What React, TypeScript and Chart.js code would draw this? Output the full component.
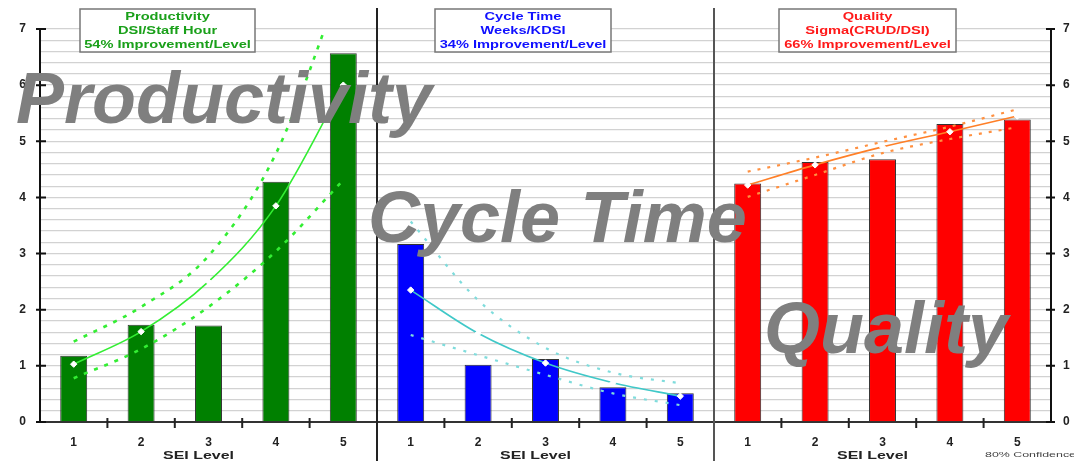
import { useEffect, useRef } from "react";
import { Chart, registerables } from "chart.js";

Chart.register(...registerables);

// SEI maturity levels shown on each panel's x axis
const levels = ["1", "2", "3", "4", "5"];
const yTickValues = [0, 1, 2, 3, 4, 5, 6, 7];

// Productivity (DSI per staff hour)
const productivity = [1.18, 1.73, 1.72, 4.28, 6.57];
const productivityTrend = [1.03, 1.61, 2.5, 3.85, 6.0];
const productivityUpper = [1.43, 2.05, 2.96, 4.78, 7.9];
const productivityLower = [0.78, 1.3, 2.05, 3.04, 4.31];

// Cycle time (weeks per KDSI)
const cycleTime = [3.17, 1.02, 1.12, 0.62, 0.51];
const cycleTrend = [2.35, 1.58, 1.05, 0.7, 0.46];
const cycleUpper = [3.57, 2.17, 1.32, 0.88, 0.69];
const cycleLower = [1.55, 1.19, 0.84, 0.51, 0.3];

// Quality (sigma of CRUD/DSI)
const quality = [4.25, 4.63, 4.68, 5.31, 5.39];
const qualityTrend = [4.22, 4.58, 4.9, 5.17, 5.45];
const qualityUpper = [4.46, 4.71, 4.99, 5.26, 5.57];
const qualityLower = [4.01, 4.4, 4.79, 5.04, 5.25];

const productivityLegend = ["Productivity", "DSI/Staff Hour", "54% Improvement/Level"];
const cycleLegend = ["Cycle Time", "Weeks/KDSI", "34% Improvement/Level"];
const qualityLegend = ["Quality", "Sigma(CRUD/DSI)", "66% Improvement/Level"];

const panelTitles = ["Productivity", "Cycle Time", "Quality"];
const xAxisTitle = "SEI Level";
const confidenceNote = "80% Confidence";

const FONT = "'Liberation Sans', Arial, sans-serif";

function stretchText(
  ctx: CanvasRenderingContext2D,
  text: string,
  x: number,
  y: number,
  font: string,
  color: string,
  sx: number,
  align: CanvasTextAlign = "center"
) {
  ctx.save();
  ctx.font = font;
  ctx.fillStyle = color;
  ctx.textAlign = align;
  ctx.textBaseline = "middle";
  ctx.translate(x, y);
  ctx.scale(sx, 1);
  ctx.fillText(text, 0, 0);
  ctx.restore();
}

export default function App() {
  const ref = useRef<HTMLCanvasElement>(null);

  useEffect(() => {
    const canvas = ref.current;
    if (!canvas) return;

    const labels = [...levels, ...levels, ...levels];
    const place = (vals: number[], panel: number) =>
      labels.map((_, i) => {
        const k = i - panel * 5;
        return k >= 0 && k < 5 ? vals[k] : null;
      });

    const barColors = labels.map((_, i) => (i < 5 ? "#008000" : i < 10 ? "#0000ff" : "#ff0000"));

    const trend = (vals: number[], panel: number, color: string) => ({
      type: "line" as const,
      data: place(vals, panel),
      borderColor: color,
      borderWidth: 1.6,
      cubicInterpolationMode: "monotone" as const,
      pointStyle: "rectRot" as const,
      pointRadius: 3.2,
      pointBackgroundColor: "#ffffff",
      pointBorderColor: "#ffffff",
      pointBorderWidth: 1,
      spanGaps: false,
      order: 0,
    });
    const band = (vals: number[], panel: number, color: string, dash: number[], width: number) => ({
      type: "line" as const,
      data: place(vals, panel),
      borderColor: color,
      borderWidth: width,
      borderDash: dash,
      cubicInterpolationMode: "monotone" as const,
      pointRadius: 0,
      spanGaps: false,
      order: 0,
    });

    const legends = [
      { x1: 80, x2: 255, color: "#1aa01a", lines: productivityLegend },
      { x1: 435, x2: 611, color: "#1010ff", lines: cycleLegend },
      { x1: 779, x2: 956, color: "#ff1a1a", lines: qualityLegend },
    ];
    const bigText = [
      { x: 16, y: 123, text: panelTitles[0] },
      { x: 368, y: 242, text: panelTitles[1] },
      { x: 764, y: 353, text: panelTitles[2] },
    ];

    const decor = {
      id: "decor",
      afterDraw(chart: any) {
        const ctx: CanvasRenderingContext2D = chart.ctx;
        const area = chart.chartArea;
        const xs = chart.scales.x;
        const ys = chart.scales.y;
        const boundary = (i: number) => (xs.getPixelForValue(i) + xs.getPixelForValue(i + 1)) / 2;

        ctx.save();
        // integer ticks on both value axes
        ctx.strokeStyle = "#111";
        ctx.lineWidth = 2;
        for (const v of yTickValues) {
          const py = ys.getPixelForValue(v);
          ctx.beginPath();
          ctx.moveTo(area.left - 4, py);
          ctx.lineTo(area.left + 6, py);
          ctx.moveTo(area.right - 5, py);
          ctx.lineTo(area.right + 4, py);
          ctx.stroke();
        }
        // category boundary ticks
        ctx.strokeStyle = "#222";
        for (let i = 0; i < labels.length - 1; i++) {
          if (i === 4 || i === 9) continue;
          const px = boundary(i);
          ctx.beginPath();
          ctx.moveTo(px, area.bottom - 4);
          ctx.lineTo(px, area.bottom + 6);
          ctx.stroke();
        }
        // panel separators
        [4, 9].forEach((i, k) => {
          const px = boundary(i);
          ctx.strokeStyle = k === 0 ? "#222" : "#555";
          ctx.lineWidth = 2;
          ctx.beginPath();
          ctx.moveTo(px, 8);
          ctx.lineTo(px, 461);
          ctx.stroke();
        });
        ctx.restore();

        // legend boxes
        for (const lg of legends) {
          ctx.save();
          ctx.fillStyle = "#ffffff";
          ctx.fillRect(lg.x1, 9, lg.x2 - lg.x1, 43);
          ctx.strokeStyle = "#777";
          ctx.lineWidth = 1.5;
          ctx.strokeRect(lg.x1, 9, lg.x2 - lg.x1, 43);
          ctx.restore();
          const cx = (lg.x1 + lg.x2) / 2;
          lg.lines.forEach((t, j) => {
            stretchText(ctx, t, cx, 16.5 + j * 14, `bold 11px ${FONT}`, lg.color, 1.33);
          });
        }

        // axis titles under each panel
        [2, 7, 12].forEach((i) => {
          stretchText(ctx, xAxisTitle, xs.getPixelForValue(i) - 10, 456, `bold 11px ${FONT}`, "#222", 1.45);
        });
        stretchText(ctx, confidenceNote, 985, 455, `8px ${FONT}`, "#444", 1.55, "left");

        // large panel captions
        ctx.save();
        ctx.font = `bold italic 72px ${FONT}`;
        ctx.fillStyle = "#7f7f7f";
        ctx.textAlign = "left";
        ctx.textBaseline = "alphabetic";
        for (const b of bigText) ctx.fillText(b.text, b.x, b.y);
        ctx.restore();
      },
    };

    const yTickCallback = (v: any) => {
      const n = Number(v);
      return Math.abs(n - Math.round(n)) < 1e-6 ? String(Math.round(n)) : "";
    };

    const chart = new Chart(canvas, {
      type: "bar",
      data: {
        labels,
        datasets: [
          {
            type: "bar",
            data: [...productivity, ...cycleTime, ...quality],
            backgroundColor: barColors,
            borderColor: "#333",
            borderWidth: 1,
            barPercentage: 0.4,
            categoryPercentage: 1,
            order: 1,
          },
          trend(productivityTrend, 0, "#33ee33"),
          band(productivityUpper, 0, "#33ee33", [4, 7], 2.6),
          band(productivityLower, 0, "#33ee33", [4, 7], 2.6),
          trend(cycleTrend, 1, "#40c8c8"),
          band(cycleUpper, 1, "#7fdcdc", [3, 8], 2.2),
          band(cycleLower, 1, "#7fdcdc", [3, 8], 2.2),
          trend(qualityTrend, 2, "#ff7f27"),
          band(qualityUpper, 2, "#ff9040", [3, 7], 2.2),
          band(qualityLower, 2, "#ff9040", [3, 7], 2.2),
        ] as any,
      },
      options: {
        responsive: false,
        animation: false,
        devicePixelRatio: 1,
        layout: { padding: { top: 29, left: 0, right: 0, bottom: 0 } },
        plugins: { legend: { display: false }, tooltip: { enabled: false }, title: { display: false } },
        scales: {
          x: {
            type: "category",
            grid: { display: false, drawTicks: false },
            border: { display: true, color: "#333", width: 2 },
            ticks: {
              autoSkip: false,
              maxRotation: 0,
              padding: 13,
              color: "#222",
              font: { family: FONT, size: 12, weight: "bold" },
            },
            afterFit: (s: any) => {
              s.height = 39;
            },
          },
          y: {
            position: "left",
            min: 0,
            max: 7,
            grid: { color: "#d2d2d2", lineWidth: 1.3, drawTicks: false },
            border: { display: true, color: "#111", width: 2 },
            ticks: {
              stepSize: 0.2,
              autoSkip: false,
              padding: 14,
              color: "#222",
              font: { family: FONT, size: 12, weight: "bold" },
              callback: yTickCallback,
            },
            afterFit: (s: any) => {
              s.width = 40;
            },
          },
          y2: {
            position: "right",
            min: 0,
            max: 7,
            grid: { display: false, drawTicks: false },
            border: { display: true, color: "#111", width: 2 },
            ticks: {
              stepSize: 1,
              autoSkip: false,
              padding: 12,
              color: "#222",
              font: { family: FONT, size: 12, weight: "bold" },
              callback: yTickCallback,
            },
            afterFit: (s: any) => {
              s.width = 23;
            },
          },
        },
      } as any,
      plugins: [decor],
    });

    return () => chart.destroy();
  }, []);

  return (
    <div style={{ position: "fixed", left: 0, top: 0, width: 1074, height: 461, background: "#ffffff" }}>
      <canvas ref={ref} width={1074} height={461} style={{ display: "block" }} />
    </div>
  );
}
